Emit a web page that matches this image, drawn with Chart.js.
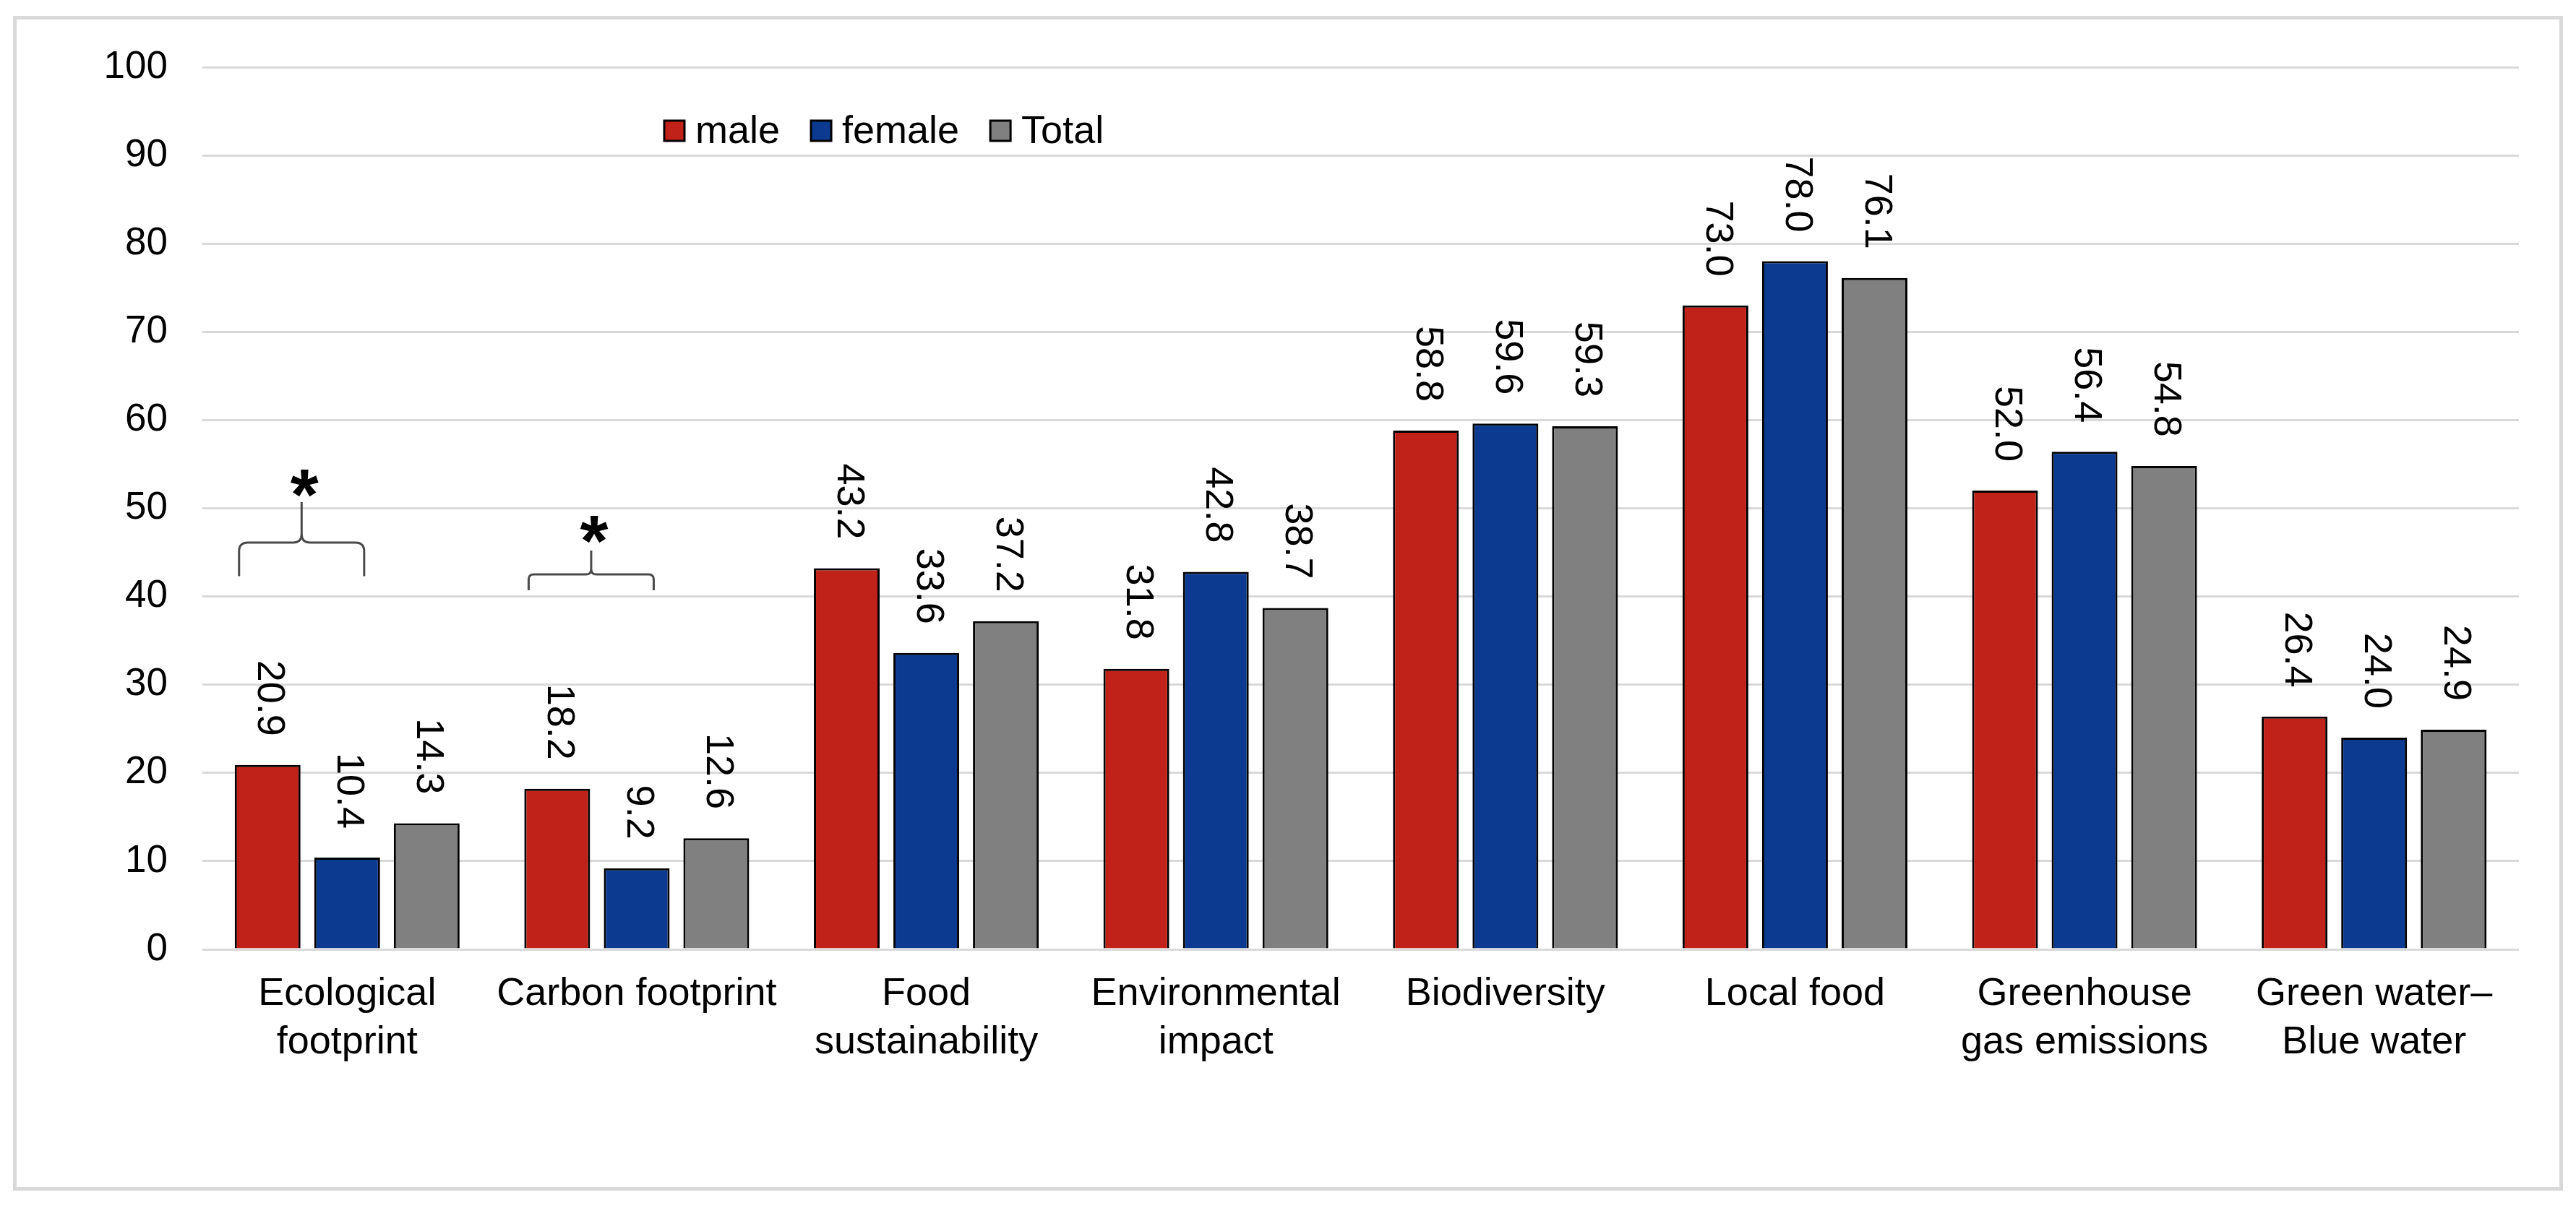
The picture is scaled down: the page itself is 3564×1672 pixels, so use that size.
<!DOCTYPE html>
<html>
<head>
<meta charset="utf-8">
<script src="https://cdn.jsdelivr.net/npm/chart.js@4.4.1/dist/chart.umd.min.js"></script>
<style>
  html, body { margin: 0; padding: 0; background: #fff; overflow: hidden; }
  #frame { position: absolute; left: 18px; top: 22px; width: 3528px; height: 1626px;
           box-sizing: border-box; border: 5px solid #d9d9d9; }
  #c { position: absolute; left: 0; top: 0; }
</style>
</head>
<body>
<div id="frame"></div>
<canvas id="c" width="3564" height="1672"></canvas>
<script>
// ---------- data ----------
const categories = [
  ["Ecological", "footprint"],
  "Carbon footprint",
  ["Food", "sustainability"],
  ["Environmental", "impact"],
  "Biodiversity",
  "Local food",
  ["Greenhouse", "gas emissions"],
  ["Green water\u2013", "Blue water"]
];
const seriesNames = ["male", "female", "Total"];
const maleValues   = [20.9, 18.2, 43.2, 31.8, 58.8, 73.0, 52.0, 26.4];
const femaleValues = [10.4,  9.2, 33.6, 42.8, 59.6, 78.0, 56.4, 24.0];
const totalValues  = [14.3, 12.6, 37.2, 38.7, 59.3, 76.1, 54.8, 24.9];
const yMin = 0, yMax = 100, yStep = 10;
// categories where male vs female differ significantly (marked with a brace and *)
const significantCategories = [0, 1];
const significanceMark = "*";

// ---------- styles ----------
const seriesColors = ["#c0221a", "#0c3a91", "#808080"];
const FONT = '"Liberation Sans", Arial, Helvetica, sans-serif';
// brace geometry in axis units (legs bottom, brace bar, stem top, star centre)
const braceLevels = [
  { legs: 42.3, bar: 46.1, stem: 50.7, star: 53.3, r: 12 },
  { legs: 40.7, bar: 42.5, stem: 45.2, star: 48.1, r: 7 }
];

Chart.defaults.font.family = FONT;
Chart.defaults.color = "#000";

const valueLabelPlugin = {
  id: "valueLabels",
  afterDatasetsDraw(chart) {
    const ctx = chart.ctx;
    ctx.save();
    ctx.font = "54px " + FONT;
    ctx.fillStyle = "#000";
    ctx.textAlign = "right";
    ctx.textBaseline = "middle";
    chart.data.datasets.forEach((ds, i) => {
      chart.getDatasetMeta(i).data.forEach((bar, j) => {
        ctx.save();
        ctx.translate(bar.x + 2, bar.y - 40);
        ctx.rotate(Math.PI / 2);
        ctx.fillText(ds.data[j].toFixed(1), 0, 0);
        ctx.restore();
      });
    });
    ctx.restore();
  }
};

const legendPlugin = {
  id: "customLegend",
  afterDraw(chart) {
    const ctx = chart.ctx;
    ctx.save();
    ctx.font = "54px " + FONT;
    ctx.textBaseline = "middle";
    ctx.textAlign = "left";
    let x = chart.chartArea.left + 639;
    const yMid = 181;
    const box = 28;
    chart.data.datasets.forEach((ds) => {
      ctx.fillStyle = ds.backgroundColor;
      ctx.fillRect(x, yMid - box / 2, box, box);
      ctx.lineWidth = 3;
      ctx.strokeStyle = "#000";
      ctx.strokeRect(x, yMid - box / 2, box, box);
      ctx.fillStyle = "#000";
      ctx.fillText(ds.label, x + box + 15, yMid + 2);
      x += box + 15 + ctx.measureText(ds.label).width + 43;
    });
    ctx.restore();
  }
};

const bracePlugin = {
  id: "braces",
  afterDatasetsDraw(chart) {
    const ctx = chart.ctx;
    const ys = chart.scales.y;
    const m0 = chart.getDatasetMeta(0).data;
    const m1 = chart.getDatasetMeta(1).data;
    ctx.save();
    significantCategories.forEach((cat, k) => {
      const lv = braceLevels[k];
      const a = m0[cat], b = m1[cat];
      const xl = a.x - a.width / 2 + 6;
      const xr = b.x + b.width / 2 - 22;
      const xm = (xl + xr) / 2;
      const yl = ys.getPixelForValue(lv.legs);
      const yb = ys.getPixelForValue(lv.bar);
      const yst = ys.getPixelForValue(lv.stem);
      const r = lv.r;
      ctx.beginPath();
      ctx.moveTo(xl, yl);
      ctx.lineTo(xl, yb + r);
      ctx.quadraticCurveTo(xl, yb, xl + r, yb);
      ctx.lineTo(xm - r, yb);
      ctx.quadraticCurveTo(xm, yb, xm, yb - r);
      ctx.lineTo(xm, yst);
      ctx.moveTo(xm, yb - r);
      ctx.quadraticCurveTo(xm, yb, xm + r, yb);
      ctx.lineTo(xr - r, yb);
      ctx.quadraticCurveTo(xr, yb, xr, yb + r);
      ctx.lineTo(xr, yl);
      ctx.lineWidth = 3;
      ctx.strokeStyle = "#4a4a4a";
      ctx.stroke();
      ctx.fillStyle = "#000";
      ctx.font = "bold 100px " + FONT;
      ctx.textAlign = "center";
      ctx.textBaseline = "alphabetic";
      ctx.fillText(significanceMark, xm + 4, ys.getPixelForValue(lv.star) + 56);
    });
    ctx.restore();
  }
};

const seriesData = [maleValues, femaleValues, totalValues];

new Chart(document.getElementById("c"), {
  type: "bar",
  data: {
    labels: categories,
    datasets: seriesNames.map((name, i) => ({
      label: name,
      data: seriesData[i],
      backgroundColor: seriesColors[i],
      borderColor: "#000",
      borderWidth: 3,
      categoryPercentage: 0.824,
      barPercentage: 0.827
    }))
  },
  options: {
    responsive: false,
    animation: false,
    devicePixelRatio: 1,
    layout: { padding: { left: 20, right: 79, top: 93, bottom: 40 } },
    plugins: { legend: { display: false }, tooltip: { enabled: false } },
    scales: {
      x: {
        grid: { display: false, drawTicks: false },
        border: { display: false },
        ticks: {
          font: { size: 54, lineHeight: 1.25 },
          color: "#000",
          padding: 28,
          autoSkip: false,
          maxRotation: 0,
          minRotation: 0
        },
        afterFit(scale) { scale.height = 1672 - 40 - 1314; }
      },
      y: {
        min: yMin,
        max: yMax,
        grid: { color: "#d9d9d9", lineWidth: 3, drawTicks: false },
        border: { display: false },
        ticks: {
          stepSize: yStep,
          font: { size: 53 },
          color: "#000",
          padding: 48
        },
        afterFit(scale) { scale.width = 260; }
      }
    }
  },
  plugins: [valueLabelPlugin, bracePlugin, legendPlugin]
});
</script>
</body>
</html>
